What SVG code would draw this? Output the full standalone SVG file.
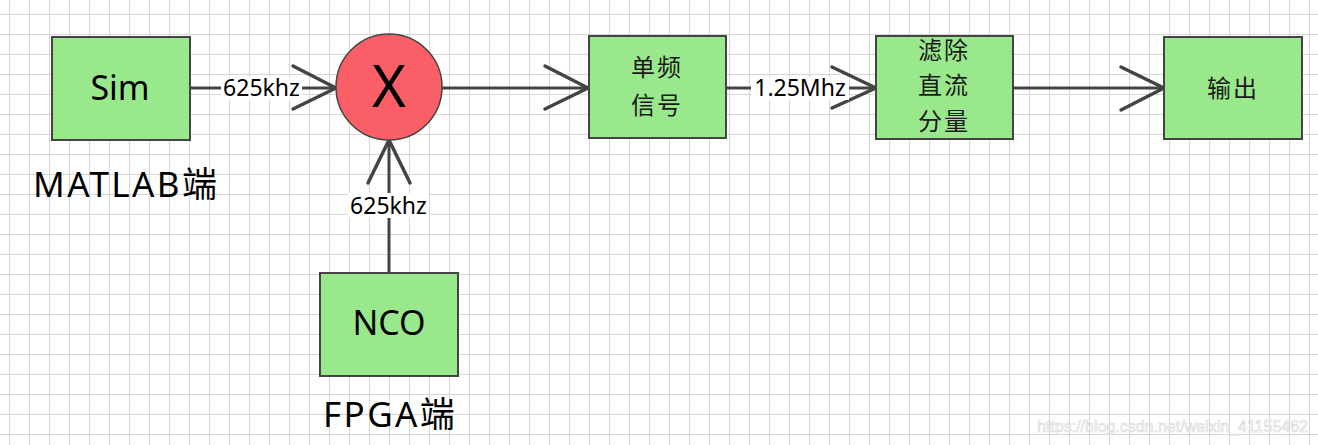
<svg xmlns="http://www.w3.org/2000/svg" width="1318" height="445" viewBox="0 0 1318 445">
<style>
.box{fill:#9ae88c;stroke:#444;stroke-width:2}
.conn{stroke:#444;stroke-width:3;fill:none;stroke-linecap:round}
.arm{stroke:#444;stroke-width:3.5;fill:none;stroke-linecap:round;stroke-linejoin:round}
.big{font-family:"Noto Sans","Open Sans",sans-serif;font-size:34px;fill:#000}
.lbl{font-family:"Noto Sans","Open Sans",sans-serif;font-size:23px;fill:#000;text-anchor:middle}
.cjk{font-family:"Noto Sans CJK SC",sans-serif;font-size:24px;fill:#1a1a1a;text-anchor:middle;letter-spacing:2px}
.cap{font-family:"Noto Sans","Noto Sans CJK SC",sans-serif;font-size:35px;fill:#000;letter-spacing:2.4px}
</style>
<defs>
<pattern id="grid" x="9" y="14" width="20" height="20" patternUnits="userSpaceOnUse">
<path d="M0.5 0V20M0 0.5H20" stroke="#d6d6d6" stroke-width="1" fill="none"/>
</pattern>
</defs>
<rect width="1318" height="445" fill="#fff"/>
<rect width="1318" height="445" fill="url(#grid)"/>
<g id="connectors">
<line class="conn" x1="190" y1="88" x2="336" y2="88"/>
<polyline class="arm" points="293,66 336,88 293,109"/>
<line class="conn" x1="389" y1="272" x2="389" y2="140"/>
<polyline class="arm" points="368,183 389,140 410,183"/>
<line class="conn" x1="442" y1="88" x2="588" y2="88"/>
<polyline class="arm" points="545,66 588,88 545,109"/>
<line class="conn" x1="726" y1="88" x2="876" y2="88"/>
<polyline class="arm" points="832,67 876,88 832,108"/>
<line class="conn" x1="1013" y1="88" x2="1164" y2="88"/>
<polyline class="arm" points="1121,67 1164,88 1121,110"/>
<rect x="221" y="77" width="81" height="23" fill="#fff"/>
<text class="lbl" x="261.5" y="96">625khz</text>
<rect x="348" y="193" width="81" height="25" fill="#fff"/>
<text class="lbl" x="388.5" y="214">625khz</text>
<rect x="751" y="77" width="98" height="23" fill="#fff"/>
<text class="lbl" x="800" y="96">1.25Mhz</text>
</g>
<g id="sim">
<rect class="box" x="52" y="37" width="138" height="103"/>
<text class="big" x="120" y="100" text-anchor="middle">Sim</text>
</g>
<g id="mixer">
<circle cx="389" cy="87" r="53" fill="#fa5f67" stroke="#444" stroke-width="1.5"/>
<text x="389" y="107" text-anchor="middle" font-family="Noto Sans,Open Sans,sans-serif" font-size="58" fill="#000">X</text>
</g>
<g id="nco">
<rect class="box" x="320" y="273" width="138" height="103"/>
<text class="big" x="389" y="335" text-anchor="middle">NCO</text>
</g>
<g id="single">
<rect class="box" x="589" y="36" width="137" height="102"/>
<text class="cjk" x="657" y="76">单频</text>
<text class="cjk" x="657" y="114">信号</text>
</g>
<g id="filter">
<rect class="box" x="876" y="36" width="137" height="103"/>
<text class="cjk" x="944" y="59">滤除</text>
<text class="cjk" x="944" y="94">直流</text>
<text class="cjk" x="944" y="130">分量</text>
</g>
<g id="output">
<rect class="box" x="1164" y="37" width="138" height="102"/>
<text class="cjk" x="1233" y="97">输出</text>
</g>
<g id="captions">
<text class="cap" x="33" y="197">MATLAB端</text>
<text class="cap" x="323" y="427">FPGA端</text>
</g>
<text x="1037" y="432" font-family="Liberation Sans,sans-serif" font-size="16" fill="#fff" stroke="#d4d4d4" stroke-width="0.6">https://blog.csdn.net/weixin_41155462</text>
</svg>
